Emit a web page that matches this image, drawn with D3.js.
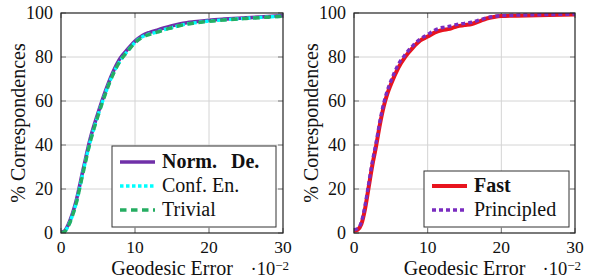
<!DOCTYPE html>
<html>
<head>
<meta charset="utf-8">
<style>
  body { margin: 0; background: #fff; }
  svg { display: block; }
  .grid line { stroke: #d4d4d4; stroke-width: 1; }
  .frame { fill: none; stroke: #222; stroke-width: 1.2; }
  .tick { stroke: #777; stroke-width: 1; }
  .legendBox { fill: #fff; stroke: #333; stroke-width: 1; }
</style>
</head>
<body>
<svg class="chart"></svg>
<script src="https://d3js.org/d3.v7.min.js"></script>
<script>
// values (x in 1e-2 units, y in %)
const xTicks = [0, 10, 20, 30];
const yTicks = [0, 20, 40, 60, 80, 100];

const normDe = [[0,0.3],[0.5,1],[1,4],[2,14],[3,29],[4,43.5],[5,54.5],[6,64.5],[7,73],[8,79.5],[9,83.5],[10,87.2],[11,89.8],[12,91.2],[13,92.2],[14,93.3],[15,94.2],[16,95],[17,95.6],[18,96],[20,96.7],[22,97.2],[25,97.8],[28,98.4],[30,98.8]];
const confEn = [[0,0],[0.5,0.7],[1,3.4],[2,13],[3,28],[4,42.3],[5,53.5],[6,63.5],[7,72],[8,78.3],[9,82.7],[10,86.6],[11,89.2],[12,90.5],[13,91.4],[14,92.5],[15,93.4],[16,94.3],[17,95],[18,95.5],[20,96.3],[22,96.9],[25,97.6],[28,98.2],[30,98.6]];
const trivial = [[0,0],[0.5,0.6],[1,3.2],[2,12.8],[3,27.6],[4,42],[5,53.2],[6,63.2],[7,71.8],[8,78.2],[9,82.6],[10,86.5],[11,89],[12,90.3],[13,91.3],[14,92.4],[15,93.3],[16,94.2],[17,94.9],[18,95.4],[20,96.2],[22,96.8],[25,97.5],[28,98.1],[30,98.5]];

const fast = [[0,1],[0.5,1.5],[1,4],[1.5,11],[2,21],[2.5,31],[3,39.5],[3.5,49],[4,57],[4.5,63],[5,67.5],[6,75],[7,80.3],[8,84.3],[9,87.5],[10,89.3],[11,91.2],[12,92.3],[13,92.8],[14,94],[15,94.5],[16,95],[17,96.2],[18,97.5],[19,98.2],[20,98.6],[25,99],[30,99.3]];
const principled = [[0,1.5],[0.5,2],[1,5],[1.5,12.5],[2,22.5],[2.5,32.5],[3,41],[3.5,50.5],[4,58.5],[4.5,64.5],[5,69],[6,76.5],[7,81.3],[8,85.2],[9,88.2],[10,90.2],[11,92.3],[12,93.4],[13,94],[14,94.8],[15,95.3],[16,95.8],[17,96.8],[18,97.8],[19,98.4],[20,98.8],[25,99.2],[30,99.5]];

const leftSeries = [
  {name: "Norm.\u2002\u2009De.", data: normDe, color: "#7030a8", dash: null, width: 3.6, bold: true},
  {name: "Conf. En.", data: confEn, color: "#00ffff", dash: "3.5,2.5", width: 3.4, bold: false},
  {name: "Trivial", data: trivial, color: "#25ad62", dash: "6.5,4.5", width: 3.4, bold: false}
];
const rightSeries = [
  {name: "Fast", data: fast, color: "#e8141e", dash: null, width: 4, bold: true},
  {name: "Principled", data: principled, color: "#7a2cc0", dash: "4,3", width: 3.4, bold: false}
];

const FONT = "Liberation Serif";
const W = 592, H = 278;
const svg = d3.select(".chart").attr("width", W).attr("height", H);

function label(sel, size) {
  return sel.attr("font-family", FONT).attr("font-size", size).attr("fill", "#111");
}

function drawPanel(id, x0, x1, series, legend) {
  const y0 = 13, y1 = 233;
  const x = d3.scaleLinear().domain([0, 30]).range([x0, x1]);
  const y = d3.scaleLinear().domain([0, 100]).range([y1, y0]);
  const g = svg.append("g");

  // grid
  const grid = g.append("g").attr("class", "grid");
  grid.selectAll(".gx").data(xTicks.slice(1, -1)).join("line")
    .attr("x1", d => x(d)).attr("x2", d => x(d)).attr("y1", y0).attr("y2", y1);
  grid.selectAll(".gy").data(yTicks.slice(1, -1)).join("line")
    .attr("y1", d => y(d)).attr("y2", d => y(d)).attr("x1", x0).attr("x2", x1);

  // inner ticks on all four sides
  const tl = 5;
  const ticks = g.append("g");
  xTicks.forEach(d => {
    ticks.append("line").attr("class", "tick").attr("x1", x(d)).attr("x2", x(d)).attr("y1", y1).attr("y2", y1 - tl);
    ticks.append("line").attr("class", "tick").attr("x1", x(d)).attr("x2", x(d)).attr("y1", y0).attr("y2", y0 + tl);
  });
  yTicks.forEach(d => {
    ticks.append("line").attr("class", "tick").attr("y1", y(d)).attr("y2", y(d)).attr("x1", x0).attr("x2", x0 + tl);
    ticks.append("line").attr("class", "tick").attr("y1", y(d)).attr("y2", y(d)).attr("x1", x1).attr("x2", x1 - tl);
  });

  // curves, clipped to the plot box
  svg.append("clipPath").attr("id", id).append("rect")
    .attr("x", x0).attr("y", y0).attr("width", x1 - x0).attr("height", y1 - y0);
  const line = d3.line().x(d => x(d[0])).y(d => y(d[1])).curve(d3.curveMonotoneX);
  g.append("g").attr("clip-path", `url(#${id})`)
    .selectAll("path").data(series).join("path")
    .attr("d", d => line(d.data))
    .attr("fill", "none")
    .attr("stroke", d => d.color)
    .attr("stroke-width", d => d.width)
    .attr("stroke-dasharray", d => d.dash);

  g.append("rect").attr("class", "frame")
    .attr("x", x0).attr("y", y0).attr("width", x1 - x0).attr("height", y1 - y0);

  // tick labels
  label(g.selectAll(".xl").data(xTicks).join("text"), 17.5)
    .attr("x", d => x(d)).attr("y", 252.5).attr("text-anchor", "middle").text(d => d);
  label(g.selectAll(".yl").data(yTicks).join("text"), 18)
    .attr("x", x0 - 8).attr("y", d => y(d)).attr("dy", "0.34em").attr("text-anchor", "end").text(d => d);

  // axis titles
  label(g.append("text"), 20).attr("x", (x0 + x1) / 2).attr("y", 274.5)
    .attr("text-anchor", "middle").text("Geodesic Error");
  const sc = label(g.append("text"), 18.5).attr("x", x1 + 6).attr("y", 274.5).attr("text-anchor", "end");
  sc.append("tspan").text("\u00b710");
  sc.append("tspan").attr("dy", -5).attr("font-size", 13).text("\u22122");
  label(g.append("text"), 20)
    .attr("transform", `translate(${x0 - 36},${(y0 + y1) / 2}) rotate(-90)`)
    .attr("text-anchor", "middle").text("% Correspondences");

  // legend
  const lg = g.append("g");
  lg.append("rect").attr("class", "legendBox")
    .attr("x", legend.x).attr("y", legend.y).attr("width", legend.w).attr("height", legend.h);
  const base = legend.y + legend.h - 11.5 - 24 * (series.length - 1);
  series.forEach((s, i) => {
    const by = base + 24 * i;
    lg.append("line")
      .attr("x1", legend.x + 8).attr("x2", legend.x + 43)
      .attr("y1", by - 5.5).attr("y2", by - 5.5)
      .attr("stroke", s.color).attr("stroke-width", s.width).attr("stroke-dasharray", s.dash);
    label(lg.append("text"), 20).attr("x", legend.x + 50).attr("y", by)
      .attr("font-weight", s.bold ? "bold" : "normal")
      .text(s.name);
  });
}

drawPanel("clipL", 61, 283, leftSeries, {x: 112, y: 146, w: 164, h: 81});
drawPanel("clipR", 354, 575, rightSeries, {x: 424, y: 171, w: 145, h: 56});
</script>
</body>
</html>
